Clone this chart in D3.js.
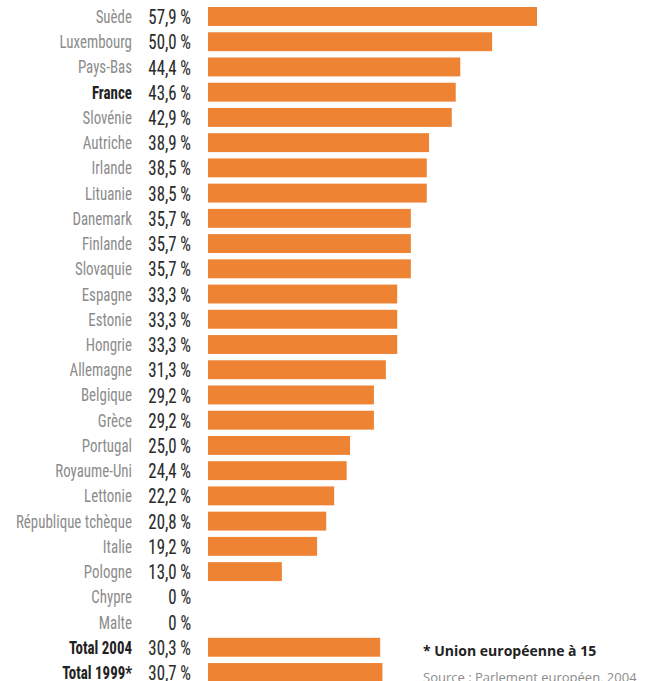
<!DOCTYPE html>
<html><head><meta charset="utf-8">
<script src="https://cdn.jsdelivr.net/npm/d3@7"></script>
<style>
body{margin:0;background:#fff;}
</style></head>
<body><svg id="c" width="653" height="681"></svg>
<script>
const countries = ["Suède","Luxembourg","Pays-Bas","France","Slovénie","Autriche","Irlande","Lituanie","Danemark","Finlande","Slovaquie","Espagne","Estonie","Hongrie","Allemagne","Belgique","Grèce","Portugal","Royaume-Uni","Lettonie","République tchèque","Italie","Pologne","Chypre","Malte","Total 2004","Total 1999*"];
const values = [57.9,50.0,44.4,43.6,42.9,38.9,38.5,38.5,35.7,35.7,35.7,33.3,33.3,33.3,31.3,29.2,29.2,25.0,24.4,22.2,20.8,19.2,13.0,0,0,30.3,30.7];
const valueLabels = ["57,9 %","50,0 %","44,4 %","43,6 %","42,9 %","38,9 %","38,5 %","38,5 %","35,7 %","35,7 %","35,7 %","33,3 %","33,3 %","33,3 %","31,3 %","29,2 %","29,2 %","25,0 %","24,4 %","22,2 %","20,8 %","19,2 %","13,0 %","0 %","0 %","30,3 %","30,7 %"];
const boldRows = ["France","Total 2004","Total 1999*"];

const svg = d3.select("#c");
const narrow = "'Liberation Sans Narrow','Roboto Condensed',sans-serif";
const x = d3.scaleLinear().domain([0,57.9]).range([208,537]);
const y = d3.scaleBand().domain(countries).range([4,685]).paddingInner(0.25).paddingOuter(0.12);

svg.selectAll("rect.bar").data(countries).join("rect")
  .attr("class","bar")
  .attr("x", x(0))
  .attr("y", d=>y(d))
  .attr("width", (d,i)=>x(values[i])-x(0))
  .attr("height", y.bandwidth())
  .attr("fill","#ee8433");

svg.selectAll("text.lab").data(countries).join("text")
  .attr("class","lab")
  .attr("transform", d=>`translate(132,${y(d)+y.bandwidth()/2}) scale(0.83,1)`)
  .attr("dy","0.36em")
  .attr("text-anchor","end")
  .style("font-family", narrow)
  .style("font-size","18px")
  .style("font-weight", d=>boldRows.includes(d)?"bold":"normal")
  .attr("fill", d=>boldRows.includes(d)?"#222":"#8c8c8c")
  .text(d=>d);

svg.selectAll("text.val").data(countries).join("text")
  .attr("class","val")
  .attr("transform", d=>`translate(191,${y(d)+y.bandwidth()/2}) scale(0.8,1)`)
  .attr("dy","0.36em")
  .attr("text-anchor","end")
  .style("font-family", narrow)
  .style("font-size","21px")
  .attr("fill","#2a2a2a")
  .attr("stroke","#2a2a2a").attr("stroke-width",0.1)
  .text((d,i)=>valueLabels[i]);

svg.append("text").attr("x",423).attr("y",656)
  .style("font-family","'Open Sans',sans-serif").style("font-size","14px").style("font-weight","bold").attr("fill","#222")
  .text("* Union européenne à 15");
svg.append("text").attr("x",423).attr("y",682)
  .style("font-family","'Open Sans',sans-serif").style("font-size","13px").attr("fill","#8c8c8c")
  .text("Source : Parlement européen, 2004");
</script></body></html>
